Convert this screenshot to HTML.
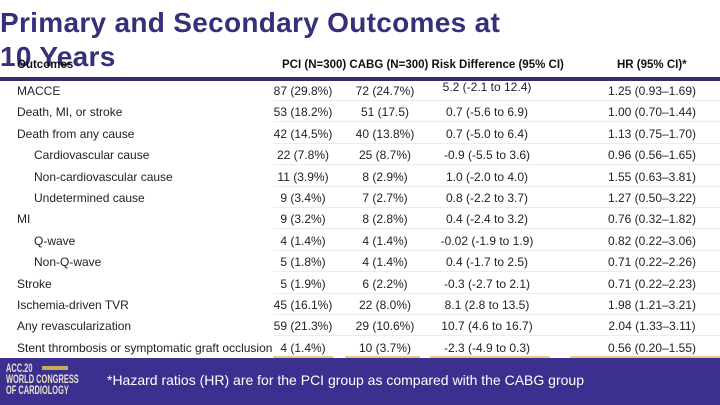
<!DOCTYPE html>
<html><head><meta charset="utf-8"><style>
body{margin:0;width:720px;height:405px;overflow:hidden;background:#fff;font-family:"Liberation Sans",sans-serif;position:relative}
.t{position:absolute;left:0;top:6px;font-weight:bold;color:#35307a;font-size:28px;line-height:34px;letter-spacing:0.3px}
.h{position:absolute;top:59px;font-size:11.5px;font-weight:bold;color:#111;white-space:nowrap}
.hl{position:absolute;left:0;top:77px;width:720px;height:4px;background:#2e2f6a}
.r{position:absolute;left:0;width:720px;height:21px;font-size:12px;color:#222}
.r span{position:absolute;top:4px;white-space:nowrap}
.c{transform:translateX(-50%)}
.r i{position:absolute;bottom:0;height:1px;background:#ececec}
.foot{position:absolute;left:0;top:358px;width:720px;height:47px;background:#3b2f8f}
.logo{position:absolute;left:6px;top:363px;color:#e8e2c8;font-size:12px;line-height:11px;font-weight:bold;transform:scaleX(0.62);transform-origin:0 0;white-space:nowrap}
.tag{position:absolute;left:42px;top:366px;width:26px;height:4px;background:#c9a95a}
.note{position:absolute;left:107px;top:372px;color:#fff;font-size:14px}
</style></head><body>
<div class="t">Primary and Secondary Outcomes at<br>10 Years</div>
<div class="h" style="left:17px">Outcomes</div>
<div class="h" style="left:282px">PCI (N=300) CABG (N=300) Risk Difference (95% CI)</div>
<div class="h" style="left:617px">HR (95% CI)*</div>
<div class="hl"></div>
<div id="rows"></div>
<div class="foot"></div>
<div class="logo">ACC.20<br>WORLD CONGRESS<br>OF CARDIOLOGY</div>
<div class="tag"></div>
<div class="note">*Hazard ratios (HR) are for the PCI group as compared with the CABG group</div>
<script>
const labels=["MACCE","Death, MI, or stroke","Death from any cause","Cardiovascular cause","Non-cardiovascular cause","Undetermined cause","MI","Q-wave","Non-Q-wave","Stroke","Ischemia-driven TVR","Any revascularization","Stent thrombosis or symptomatic graft occlusion"];
const indent=[0,0,0,1,1,1,0,1,1,0,0,0,0];
const pci=["87 (29.8%)","53 (18.2%)","42 (14.5%)","22 (7.8%)","11 (3.9%)","9 (3.4%)","9 (3.2%)","4 (1.4%)","5 (1.8%)","5 (1.9%)","45 (16.1%)","59 (21.3%)","4 (1.4%)"];
const cabg=["72 (24.7%)","51 (17.5)","40 (13.8%)","25 (8.7%)","8 (2.9%)","7 (2.7%)","8 (2.8%)","4 (1.4%)","4 (1.4%)","6 (2.2%)","22 (8.0%)","29 (10.6%)","10 (3.7%)"];
const rd=["5.2 (-2.1 to 12.4)","0.7 (-5.6 to 6.9)","0.7 (-5.0 to 6.4)","-0.9 (-5.5 to 3.6)","1.0 (-2.0 to 4.0)","0.8 (-2.2 to 3.7)","0.4 (-2.4 to 3.2)","-0.02 (-1.9 to 1.9)","0.4 (-1.7 to 2.5)","-0.3 (-2.7 to 2.1)","8.1 (2.8 to 13.5)","10.7 (4.6 to 16.7)","-2.3 (-4.9 to 0.3)"];
const hr=["1.25 (0.93–1.69)","1.00 (0.70–1.44)","1.13 (0.75–1.70)","0.96 (0.56–1.65)","1.55 (0.63–3.81)","1.27 (0.50–3.22)","0.76 (0.32–1.82)","0.82 (0.22–3.06)","0.71 (0.22–2.26)","0.71 (0.22–2.23)","1.98 (1.21–3.21)","2.04 (1.33–3.11)","0.56 (0.20–1.55)"];
const wrap=document.getElementById('rows');
labels.forEach((l,i)=>{
 const r=document.createElement('div');
 r.className='r';
 
 
 r.style.top=(80+i*21.4)+'px';
 r.innerHTML=`<span style="left:${indent[i]?34:17}px">${l}</span><span class="c" style="left:303px">${pci[i]}</span><span class="c" style="left:385px">${cabg[i]}</span><span class="c" style="left:487px${i==0?';top:0px':''}">${rd[i]}</span><span class="c" style="left:652px">${hr[i]}</span>`+
 (i==12?'<i style="left:273px;width:60px;background:#e8c98a;height:2px"></i><i style="left:345px;width:75px;background:#e8c98a;height:2px"></i><i style="left:430px;width:120px;background:#e8c98a;height:2px"></i><i style="left:570px;width:150px;background:#e8c98a;height:2px"></i>':'<i style="left:273px;width:447px"></i>');
 wrap.appendChild(r);
});
</script>
</body></html>
